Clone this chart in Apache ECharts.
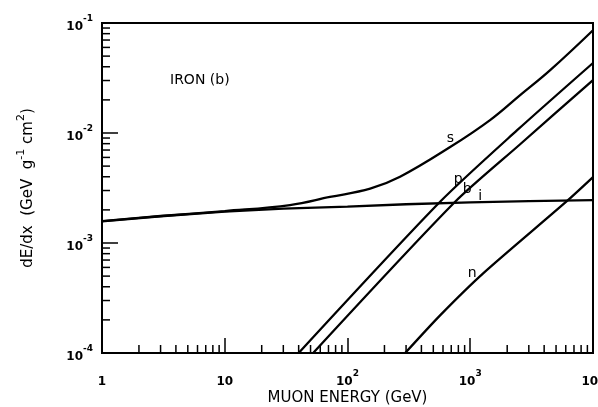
<!DOCTYPE html>
<html>
<head>
<meta charset="utf-8">
<script src="https://cdn.jsdelivr.net/npm/echarts@6/dist/echarts.min.js"></script>
<style>
  html, body { margin: 0; padding: 0; background: #fff; }
  #chart { width: 598px; height: 407px; }
</style>
</head>
<body>
<div id="chart"></div>
<script>
// Muon energy loss in iron: ionization (i), pair production (p),
// bremsstrahlung (b), photonuclear (n) and their sum (s).

// Energies in GeV, dE/dx in GeV g^-1 cm^2
const ionE = [1, 3, 10, 30, 100, 300, 1000, 3000, 10000];
const ionV = [1.57e-3, 1.75e-3, 1.93e-3, 2.05e-3, 2.14e-3, 2.25e-3, 2.34e-3, 2.40e-3, 2.45e-3];

const pairE = [40, 568, 2410, 10000];
const pairV = [1.0e-4, 2.37e-3, 1.06e-2, 4.33e-2];

const bremE = [52.5, 753, 2550, 10000];
const bremV = [1.0e-4, 2.37e-3, 7.9e-3, 3.03e-2];

const nuclE = [295, 568, 1274, 6120, 10000];
const nuclV = [1.0e-4, 2.2e-4, 5.3e-4, 2.4e-3, 3.97e-3];

const sumE = [1, 3, 10, 34, 72, 153, 268, 686, 1450, 2550, 4480, 10000];
const sumV = [1.58e-3, 1.76e-3, 1.95e-3, 2.21e-3, 2.62e-3, 3.12e-3, 4.0e-3, 7.45e-3, 1.31e-2, 2.21e-2, 3.73e-2, 8.6e-2];

// Curve letters and where they sit (data coordinates)
const curveTags = ['s', 'p', 'b', 'i', 'n'];
const tagE = [690, 797, 944, 1205, 1036];
const tagV = [9.0e-3, 3.81e-3, 3.09e-3, 2.67e-3, 5.3e-4];

// Axis ranges and decades
const xDecades = [1, 10, 100, 1000, 10000];
const yDecades = [1e-4, 1e-3, 1e-2, 1e-1];
const xMin = 1, xMax = 10000, yMin = 1e-4, yMax = 1e-1;

const zip = (a, b) => a.map((v, k) => [v, b[k]]);

// Minor ticks at 2..9 of every decade
function minorValues(decades) {
  const out = [];
  for (let d = 0; d < decades.length - 1; d++) {
    for (let m = 2; m <= 9; m++) out.push(m * decades[d]);
  }
  return out;
}
const xMinor = minorValues(xDecades).map(v => [v, yMin]);
const yMinor = minorValues(yDecades).map(v => [xMin, v]);

const FONT = 'DejaVu Sans';
const tickRich = {
  b: { fontFamily: FONT, fontSize: 12, fontWeight: 'bold', color: '#000', lineHeight: 26 },
  s: { fontFamily: FONT, fontSize: 9, fontWeight: 'bold', color: '#000', lineHeight: 8, verticalAlign: 'top' }
};

function minorTickSeries(data, vertical) {
  return {
    type: 'custom',
    coordinateSystem: 'cartesian2d',
    silent: true,
    clip: false,
    data: data,
    renderItem: function (params, api) {
      const p = api.coord([api.value(0), api.value(1)]);
      const shape = vertical
        ? { x1: p[0], y1: p[1], x2: p[0], y2: p[1] - 8 }
        : { x1: p[0], y1: p[1], x2: p[0] + 8, y2: p[1] };
      return { type: 'line', shape: shape, style: { stroke: '#000', lineWidth: 1.5 } };
    },
    z: 5
  };
}

function curve(name, e, v, smooth) {
  return {
    name: name,
    type: 'line',
    data: zip(e, v),
    showSymbol: false,
    smooth: smooth,
    lineStyle: { color: '#000', width: 2.3 },
    silent: true,
    z: 3
  };
}

const chart = echarts.init(document.getElementById('chart'), null, { renderer: 'canvas' });

chart.setOption({
  animation: false,
  backgroundColor: '#fff',
  title: {
    text: 'IRON (b)',
    left: 165,
    top: 68,
    textStyle: { fontFamily: FONT, fontSize: 14, fontWeight: 'normal', color: '#000' }
  },
  grid: {
    left: 102, right: 5, top: 23, bottom: 54,
    outerBoundsMode: 'none',
    containLabel: false,
    show: true, borderColor: '#000', borderWidth: 2, backgroundColor: 'transparent'
  },
  xAxis: {
    type: 'log',
    logBase: 10,
    min: xMin,
    max: xMax,
    name: 'MUON ENERGY (GeV)',
    nameLocation: 'middle',
    nameGap: 38,
    nameMoveOverlap: false,
    nameTextStyle: { fontFamily: FONT, fontSize: 15, color: '#000' },
    axisLine: { show: true, lineStyle: { color: '#000', width: 2 } },
    axisTick: { show: true, inside: true, length: 15, lineStyle: { color: '#000', width: 1.5 } },
    splitLine: { show: false },
    minorTick: { show: false },
    axisLabel: {
      margin: 16,
      hideOverlap: false,
      formatter: function (v) {
        const k = Math.round(Math.log10(v));
        if (k === 0) return '{b|1}';
        if (k === 1) return '{b|10}';
        return '{b|10}{s|' + k + '}';
      },
      rich: tickRich
    }
  },
  yAxis: {
    type: 'log',
    logBase: 10,
    min: yMin,
    max: yMax,
    name: '{n|dE/dx  (GeV  g}{u|-1}{n| cm}{u|2}{n|)}',
    nameLocation: 'middle',
    nameGap: 62,
    nameRotate: 90,
    nameMoveOverlap: false,
    nameTextStyle: {
      rich: {
        n: { fontFamily: FONT, fontSize: 15, color: '#000', lineHeight: 24 },
        u: { fontFamily: FONT, fontSize: 11, color: '#000', lineHeight: 10, verticalAlign: 'top' }
      }
    },
    axisLine: { show: true, lineStyle: { color: '#000', width: 2 } },
    axisTick: { show: true, inside: true, length: 16, lineStyle: { color: '#000', width: 1.5 } },
    splitLine: { show: false },
    minorTick: { show: false },
    axisLabel: {
      margin: 9,
      padding: [8, 0, 0, 0],
      formatter: function (v) {
        const k = Math.round(Math.log10(v));
        return '{b|10}{s|' + (k < 0 ? '-' + (-k) : k) + '}';
      },
      rich: tickRich
    }
  },
  series: [
    curve('i', ionE, ionV, false),
    curve('p', pairE, pairV, 0.25),
    curve('b', bremE, bremV, 0.25),
    curve('n', nuclE, nuclV, 0.25),
    curve('s', sumE, sumV, 0.4),
    minorTickSeries(xMinor, true),
    minorTickSeries(yMinor, false),
    {
      name: 'tags',
      type: 'scatter',
      data: zip(tagE, tagV),
      symbolSize: 0,
      itemStyle: { color: '#000', opacity: 1 },
      silent: true,
      label: {
        show: true,
        position: 'inside',
        formatter: function (p) { return curveTags[p.dataIndex]; },
        fontFamily: FONT,
        fontSize: 14,
        color: '#000',
        opacity: 1
      },
      z: 6
    }
  ]
});
</script>
</body>
</html>
